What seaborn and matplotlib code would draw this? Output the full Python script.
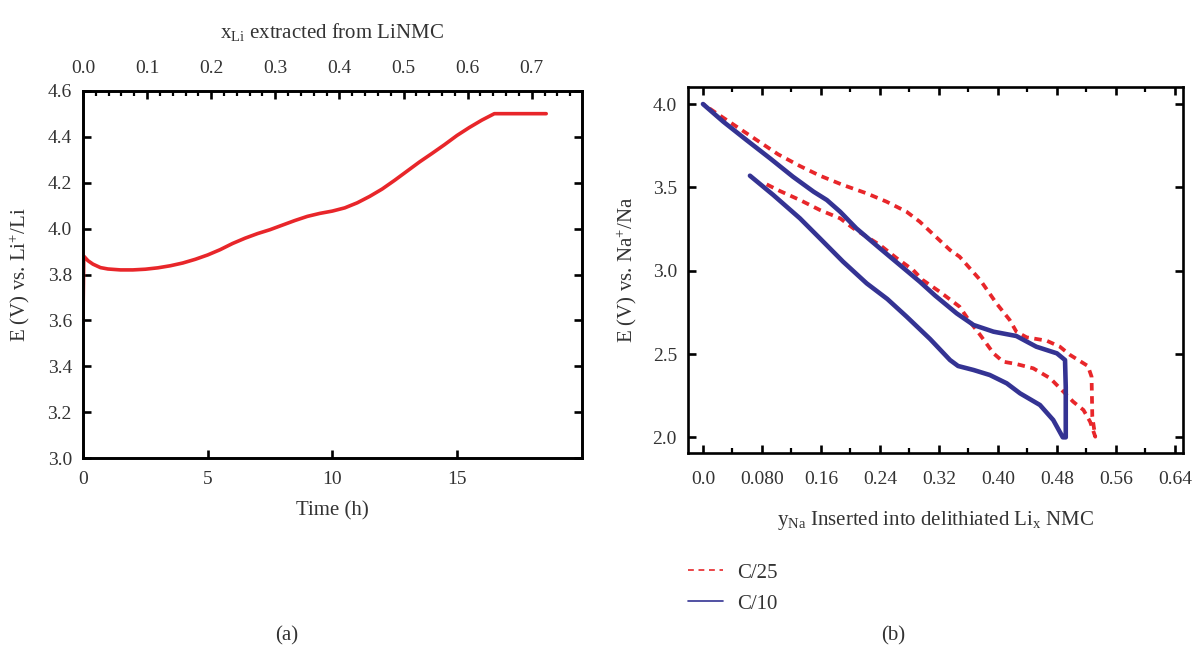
import numpy as np
import pandas as pd
import matplotlib
matplotlib.use("Agg")
import matplotlib.pyplot as plt
import seaborn as sns
from matplotlib.lines import Line2D
from matplotlib.ticker import MultipleLocator, FixedLocator, FormatStrFormatter

# ---------------- data ----------------
# Panel (a): charge curve, time (h) vs potential (V vs Li+/Li)
time_h = [0.0, 0.03, 0.2, 0.4, 0.7, 1.0, 1.5, 2.0, 2.5, 3.0, 3.5, 4.0, 4.5, 5.0,
          5.5, 6.0, 6.5, 7.0, 7.5, 8.0, 8.5, 9.0, 9.5, 10.0, 10.5, 11.0, 11.5,
          12.0, 12.5, 13.0, 13.5, 14.0, 14.5, 15.0, 15.5, 16.0, 16.5, 18.58]
volt_li = [3.60, 3.88, 3.86, 3.845, 3.83, 3.824, 3.82, 3.82, 3.823, 3.829, 3.838,
           3.85, 3.866, 3.885, 3.908, 3.935, 3.958, 3.978, 3.995, 4.015, 4.035,
           4.053, 4.066, 4.076, 4.09, 4.112, 4.14, 4.172, 4.21, 4.25, 4.29, 4.327,
           4.365, 4.405, 4.44, 4.472, 4.50, 4.50]

# Panel (b): Na insertion into delithiated LixNMC
c25_y = [0.0864, 0.1044, 0.1315, 0.1586, 0.186, 0.204, 0.222, 0.240, 0.263, 0.285,
         0.298, 0.321, 0.348, 0.362, 0.376, 0.394, 0.407, 0.425, 0.448, 0.471,
         0.491, 0.502, 0.516, 0.525, 0.532, 0.528, 0.527, 0.522, 0.498, 0.484,
         0.466, 0.439, 0.425, 0.416, 0.398, 0.376, 0.348, 0.335, 0.306, 0.294,
         0.276, 0.249, 0.222, 0.190, 0.1586, 0.1315, 0.102, 0.0728, 0.0457,
         0.0186, 0.0]
c25_e = [3.518, 3.478, 3.424, 3.364, 3.314, 3.254, 3.204, 3.154, 3.074, 3.004,
         2.944, 2.874, 2.784, 2.694, 2.614, 2.504, 2.454, 2.44, 2.414, 2.354,
         2.264, 2.214, 2.164, 2.094, 2.004, 2.124, 2.364, 2.428, 2.494, 2.544,
         2.58, 2.60, 2.634, 2.704, 2.804, 2.944, 3.084, 3.124, 3.244, 3.294,
         3.354, 3.414, 3.464, 3.514, 3.57, 3.628, 3.698, 3.784, 3.864,
         3.944, 4.0]

c10_y = [0.0637, 0.0954, 0.1315, 0.1586, 0.190, 0.222, 0.250, 0.276, 0.308, 0.335,
         0.346, 0.367, 0.389, 0.412, 0.430, 0.457, 0.475, 0.488, 0.492, 0.492,
         0.491, 0.480, 0.452, 0.425, 0.394, 0.367, 0.344, 0.315, 0.294, 0.267,
         0.240, 0.208, 0.186, 0.168, 0.150, 0.122, 0.091, 0.059, 0.0276, 0.0]
c10_e = [3.57, 3.454, 3.314, 3.194, 3.054, 2.924, 2.830, 2.725, 2.590, 2.464,
         2.428, 2.404, 2.374, 2.324, 2.264, 2.194, 2.104, 2.0, 2.0, 2.30,
         2.464, 2.504, 2.544, 2.608, 2.634, 2.674, 2.744, 2.85, 2.934, 3.034,
         3.134, 3.254, 3.354, 3.424, 3.474, 3.564, 3.674, 3.784, 3.894, 4.0]

series_names = ["C/25", "C/10"]
b_xticks = [0.0, 0.08, 0.16, 0.24, 0.32, 0.40, 0.48, 0.56, 0.64]
b_xticklabels = ["0.0", "0.080", "0.16", "0.24", "0.32", "0.40", "0.48", "0.56", "0.64"]
b_xminor = [0.04, 0.12, 0.20, 0.28, 0.36, 0.44, 0.52, 0.60]
b_yticks = [2.0, 2.5, 3.0, 3.5, 4.0]
a_yticks = [3.0, 3.2, 3.4, 3.6, 3.8, 4.0, 4.2, 4.4, 4.6]
a_xticks = [0, 5, 10, 15]
a_top_ticks = [0.0, 0.1, 0.2, 0.3, 0.4, 0.5, 0.6, 0.7]

# ---------------- style ----------------
sns.set_theme(style="ticks")
plt.rcParams["font.family"] = ["Liberation Serif", "DejaVu Serif"]
plt.rcParams["mathtext.fontset"] = "custom"
plt.rcParams["mathtext.rm"] = "Liberation Serif"
plt.rcParams["mathtext.it"] = "Liberation Serif:italic"
plt.rcParams["mathtext.default"] = "regular"
TXT = "#333333"
TFS = 14   # tick labels
LFS = 15   # axis labels / legend / captions
plt.rcParams.update({
    "text.color": TXT, "axes.labelcolor": TXT,
    "xtick.color": "black", "ytick.color": "black",
    "xtick.labelcolor": TXT, "ytick.labelcolor": TXT,
    "axes.edgecolor": "black", "axes.linewidth": 1.9,
    "xtick.direction": "in", "ytick.direction": "in",
    "xtick.major.width": 1.9, "ytick.major.width": 1.9,
    "xtick.minor.width": 1.6, "ytick.minor.width": 1.6,
    "xtick.major.size": 6, "ytick.major.size": 6,
    "xtick.minor.size": 3.8, "ytick.minor.size": 3.8,
    "font.size": LFS,
})

RED = "#e8262a"
BLUE = "#343393"

fig = plt.figure(figsize=(11.97, 6.5), dpi=100)
W, H = 1197, 650
axa = fig.add_axes([83 / W, 1 - 458.3 / H, (581.6 - 83) / W, (458.3 - 90.7) / H])
axb = fig.add_axes([688 / W, 1 - 453 / H, (1183 - 688) / W, (453 - 86.7) / H])

# ---------------- panel (a) ----------------
dfa = pd.DataFrame({"t": time_h, "E": volt_li})
sns.lineplot(data=dfa, x="t", y="E", sort=False, estimator=None, ax=axa,
             color=RED, linewidth=2.6)
axa.set_xlim(0, 20)
axa.set_ylim(3.0, 4.6)
axa.set_xticks(a_xticks)
axa.set_yticks(a_yticks)
axa.yaxis.set_major_formatter(FormatStrFormatter("%.1f"))
axa.tick_params(axis="y", which="both", left=True, right=True, labelsize=TFS, pad=8)
axa.tick_params(axis="x", which="both", bottom=True, top=False, labelsize=TFS, pad=9)
axa.set_xlabel("Time (h)", fontsize=LFS, labelpad=10)
axa.set_ylabel("E (V) vs. Li$^{+}$/Li", fontsize=LFS, labelpad=11)

top = axa.twiny()
top.set_xlim(0, 0.7 * 20 / 18.0)
top.set_xticks(a_top_ticks)
top.xaxis.set_minor_locator(MultipleLocator(0.02))
top.xaxis.set_major_formatter(FormatStrFormatter("%.1f"))
top.tick_params(axis="x", which="both", top=True, bottom=False, labelsize=TFS,
                direction="in", pad=10)
top.set_xlabel("x$_{\\mathrm{Li}}$ extracted from LiNMC", fontsize=LFS, labelpad=16)

# ---------------- panel (b) ----------------
dfb = pd.concat([
    pd.DataFrame({"y": c25_y, "E": c25_e, "rate": series_names[0]}),
    pd.DataFrame({"y": c10_y, "E": c10_e, "rate": series_names[1]}),
])
sns.lineplot(data=dfb[dfb.rate == "C/25"], x="y", y="E", sort=False, estimator=None,
             ax=axb, color=RED, linewidth=2.7, linestyle=(0, (2.0, 1.5)))
sns.lineplot(data=dfb[dfb.rate == "C/10"], x="y", y="E", sort=False, estimator=None,
             ax=axb, color=BLUE, linewidth=3.3)
axb.set_xlim(-0.0203, 0.651)
axb.set_ylim(1.906, 4.104)
axb.set_xticks(b_xticks)
axb.set_xticklabels(b_xticklabels)
axb.xaxis.set_minor_locator(FixedLocator(b_xminor))
axb.set_yticks(b_yticks)
axb.yaxis.set_major_formatter(FormatStrFormatter("%.1f"))
axb.tick_params(axis="x", which="both", bottom=True, top=True, labelsize=TFS, pad=13)
axb.tick_params(axis="y", which="both", left=True, right=True, labelsize=TFS, pad=8)
axb.set_xlabel("y$_{\\mathrm{Na}}$ Inserted into delithiated Li$_{\\mathrm{x}}$ NMC",
               fontsize=LFS, labelpad=15)
axb.set_ylabel("E (V) vs. Na$^{+}$/Na", fontsize=LFS, labelpad=10)
if axb.get_legend() is not None:
    axb.get_legend().remove()

handles = [Line2D([], [], color=RED, lw=1.2, linestyle=(0, (3.5, 2.8))),
           Line2D([], [], color=BLUE, lw=1.2)]
fig.legend(handles, series_names, loc="upper left",
           bbox_to_anchor=(688 / W, 1 - 563 / H), frameon=False, fontsize=LFS,
           handlelength=1.68, handletextpad=0.67, labelspacing=0.55,
           borderpad=0, borderaxespad=0)

fig.text(287 / W, 1 - 636 / H, "(a)", ha="center", va="center", fontsize=LFS)
fig.text(893 / W, 1 - 636 / H, "(b)", ha="center", va="center", fontsize=LFS)

fig.savefig("out.png", dpi=100)
